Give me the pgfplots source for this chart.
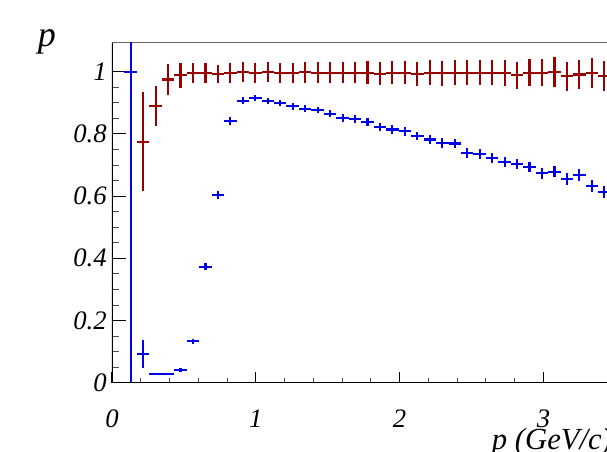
\documentclass[border=0pt]{standalone}
\usepackage{pgfplots}
\pgfplotsset{compat=1.18}
\usepackage{pgfplotstable}
\usepackage{fontspec}
\setmainfont{Liberation Serif}
\definecolor{effred}{RGB}{153,0,0}
\definecolor{conblue}{RGB}{0,0,235}

\pgfplotstableread{
x y ex ey
0.216667 0.775 0.043333 0.160
0.303333 0.889 0.043333 0.065
0.390000 0.975 0.043333 0.050
0.476667 0.988 0.043333 0.039
0.563333 0.996 0.043333 0.033
0.650000 0.996 0.043333 0.031
0.736667 0.992 0.043333 0.030
0.823333 0.996 0.043333 0.031
0.910000 0.999 0.043333 0.031
0.996667 0.996 0.043333 0.031
1.083333 0.999 0.043333 0.032
1.170000 0.996 0.043333 0.033
1.256667 0.996 0.043333 0.033
1.343333 0.998 0.043333 0.034
1.430000 0.997 0.043333 0.034
1.516667 0.997 0.043333 0.035
1.603333 0.997 0.043333 0.035
1.690000 0.997 0.043333 0.035
1.776667 0.997 0.043333 0.036
1.863333 0.993 0.043333 0.037
1.950000 0.997 0.043333 0.037
2.036667 0.997 0.043333 0.038
2.123333 0.993 0.043333 0.039
2.210000 0.997 0.043333 0.039
2.296667 0.995 0.043333 0.040
2.383333 0.997 0.043333 0.040
2.470000 0.997 0.043333 0.040
2.556667 0.997 0.043333 0.041
2.643333 0.997 0.043333 0.041
2.730000 0.995 0.043333 0.042
2.816667 0.988 0.043333 0.043
2.903333 0.997 0.043333 0.044
2.990000 0.997 0.043333 0.044
3.076667 0.998 0.043333 0.048
3.163333 0.985 0.043333 0.046
3.250000 0.991 0.043333 0.048
3.336667 0.997 0.043333 0.048
3.423333 0.985 0.043333 0.048
}\efftable

\pgfplotstableread{
x y ex ey
0.130000 1.000 0.043333 1.000
0.216667 0.092 0.043333 0.046
0.303333 0.028 0.043333 0.004
0.390000 0.028 0.043333 0.004
0.476667 0.042 0.043333 0.006
0.563333 0.133 0.043333 0.008
0.650000 0.373 0.043333 0.012
0.736667 0.604 0.043333 0.013
0.823333 0.841 0.043333 0.012
0.910000 0.907 0.043333 0.010
0.996667 0.916 0.043333 0.010
1.083333 0.905 0.043333 0.010
1.170000 0.899 0.043333 0.010
1.256667 0.889 0.043333 0.011
1.343333 0.881 0.043333 0.011
1.430000 0.877 0.043333 0.011
1.516667 0.865 0.043333 0.012
1.603333 0.851 0.043333 0.012
1.690000 0.848 0.043333 0.012
1.776667 0.838 0.043333 0.013
1.863333 0.821 0.043333 0.013
1.950000 0.814 0.043333 0.013
2.036667 0.808 0.043333 0.014
2.123333 0.793 0.043333 0.014
2.210000 0.782 0.043333 0.014
2.296667 0.771 0.043333 0.015
2.383333 0.769 0.043333 0.015
2.470000 0.739 0.043333 0.015
2.556667 0.735 0.043333 0.016
2.643333 0.722 0.043333 0.016
2.730000 0.710 0.043333 0.016
2.816667 0.703 0.043333 0.017
2.903333 0.693 0.043333 0.017
2.990000 0.673 0.043333 0.017
3.076667 0.678 0.043333 0.018
3.163333 0.655 0.043333 0.018
3.250000 0.668 0.043333 0.018
3.336667 0.633 0.043333 0.019
3.423333 0.614 0.043333 0.019
}\contable

\begin{document}
\begin{tikzpicture}
\useasboundingbox (0,0) rectangle (455.25pt,338.25pt);
\clip (0,0) rectangle (455.25pt,338.25pt);
\begin{axis}[
  at={(84pt,51.2pt)}, anchor=south west,
  scale only axis,
  width=377.5pt, height=255pt,
  xmin=0, xmax=3.5, ymin=0, ymax=1.093,
  axis line style={draw=none},
  xtick={0,1,2,3}, minor x tick num=4,
  ytick={0,0.2,0.4,0.6,0.8,1}, minor y tick num=3,
  xtick pos=bottom, ytick pos=left,
  tick align=inside,
  major tick length=9.5pt, minor tick length=4.8pt,
  x tick style={/pgfplots/major tick length=8pt,/pgfplots/minor tick length=3.8pt},
  y tick style={/pgfplots/major tick length=10.5pt,/pgfplots/minor tick length=5.2pt},
  major tick style={black, line width=0.75pt},
  minor tick style={black!70, line width=0.7pt},
  /pgf/number format/assume math mode=true,
  ticklabel style={font=\fontsize{20}{22}\selectfont\itshape},
  xticklabel style={anchor=base, yshift=-33.7pt},
  yticklabel style={inner sep=0pt, xshift=-3.75pt},
  xlabel={p (GeV/c)},
  xlabel style={at={(axis description cs:0.7544,-0.195)}, anchor=base west, inner sep=0pt, font=\fontsize{23}{25}\selectfont\itshape},
  ylabel={p},
  ylabel style={at={(axis description cs:-0.1478,0.990)}, anchor=base west, rotate=-90, inner sep=0pt, font=\fontsize{27}{30}\selectfont\itshape},
  clip=true,
]
\draw[black!60, line width=0.75pt] (rel axis cs:0,1) -- (rel axis cs:1,1);
\addplot[draw=none, mark=none,
  error bars/.cd, x dir=both, x explicit, y dir=both, y explicit, error mark=none,
  error bar style={draw=effred, line width=1.6pt}]
  table[x=x, y=y, x error=ex, y error=ey] {\efftable};
\addplot[draw=none, mark=none,
  error bars/.cd, x dir=both, x explicit, y dir=both, y explicit, error mark=none,
  error bar style={draw=conblue, line width=1.6pt}]
  table[x=x, y=y, x error=ex, y error=ey] {\contable};
\draw[black, line width=1.6pt] (rel axis cs:0,0) -- (rel axis cs:1,0);
\draw[black, line width=1.4pt] (rel axis cs:0,0) -- (rel axis cs:0,1);
\node[anchor=base west, inner sep=0pt, text=effred, font=\fontsize{20}{22}\selectfont\itshape] at (axis description cs:0.0735,1.0226) {efficiency};
\node[anchor=base west, inner sep=0pt, text=conblue, font=\fontsize{20}{22}\selectfont\itshape] at (axis description cs:0.4153,1.0226) {contamination};
\end{axis}
\end{tikzpicture}
\end{document}
